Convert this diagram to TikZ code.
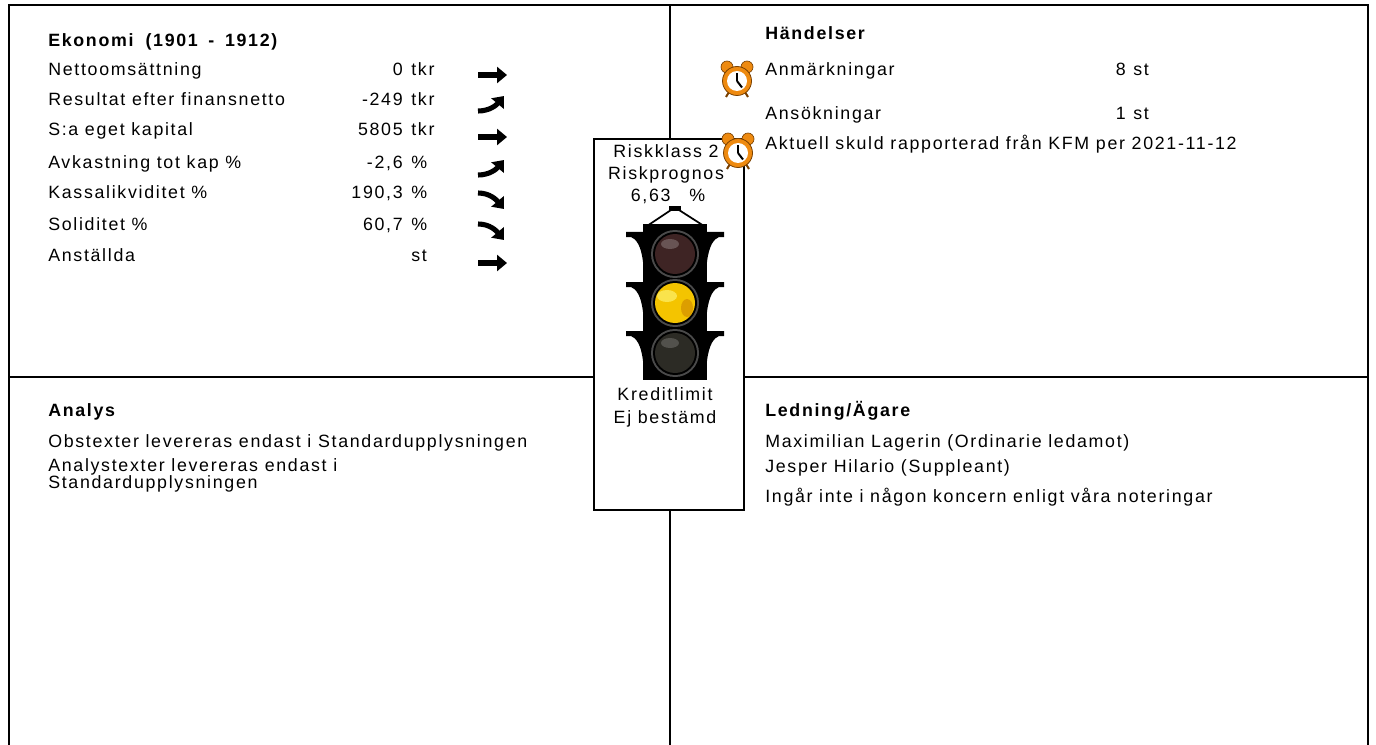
\documentclass[tikz,border=0pt]{standalone}
\usepackage{fontspec}
\setmainfont{Liberation Sans}[LetterSpace=9.5]
\usetikzlibrary{arrows.meta}
\definecolor{clockorange}{HTML}{EE8A10}
\definecolor{clockdark}{HTML}{7A4000}
\definecolor{lampred}{HTML}{3E2424}
\definecolor{lampyel}{HTML}{F4C400}
\definecolor{lampgrn}{HTML}{2C2B25}
\definecolor{ringgray}{HTML}{4A4A4A}
\newcommand{\clockicon}[2]{%
  \draw[line width=1.5pt,clockdark] (#1-8,#2+11) -- (#1-11,#2+16);
  \draw[line width=1.5pt,clockdark] (#1+8,#2+11) -- (#1+11,#2+16);
  \filldraw[fill=clockorange,draw=clockdark,line width=0.5pt] (#1-10,#2-14) circle[radius=6];
  \filldraw[fill=clockorange,draw=clockdark,line width=0.5pt] (#1+10,#2-14) circle[radius=6];
  \filldraw[fill=clockorange,draw=clockdark,line width=0.6pt] (#1,#2) circle[radius=14.5];
  \fill[white] (#1,#2) circle[radius=10];
  \draw[line width=1.5pt] (#1,#2+0.5) -- (#1,#2-8);
  \draw[line width=1.5pt] (#1,#2) -- (#1+5,#2+6.5);
}
\newcommand{\wings}[1]{%
  \fill[black] (626,#1) -- (643,#1) -- (643,#1+30) .. controls (641,#1+13) and (636,#1+7) .. (631,#1+5) -- (626,#1+5) -- cycle;
  \fill[black] (724,#1) -- (707,#1) -- (707,#1+30) .. controls (709,#1+13) and (714,#1+7) .. (719,#1+5) -- (724,#1+5) -- cycle;
}
\begin{document}
\begin{tikzpicture}[x=0.75pt,y=-0.75pt,
  every node/.style={inner sep=0pt,font=\fontsize{13.35pt}{15pt}\selectfont},
  txt/.style={anchor=base west},
  hdr/.style={anchor=base west,font=\fontsize{13.35pt}{15pt}\selectfont\bfseries},
  val/.style={anchor=base east},
  ctr/.style={anchor=base},
  frame/.style={line width=1.5pt},
  trend/.style={line width=3.8pt,-{Triangle[length=7.5pt,width=12pt]}}]
\useasboundingbox (0,0) rectangle (1376,745);
% frame
\draw[frame] (9,745) -- (9,5) -- (1368,5) -- (1368,745);
\draw[frame] (670,5) -- (670,139);
\draw[frame] (670,510) -- (670,745);
\draw[frame] (9,377) -- (594,377);
\draw[frame] (744,377) -- (1368,377);
\draw[frame] (594,139) rectangle (744,510);

% Ekonomi
\node[hdr] (ekh) at (48,47) {Ekonomi\hspace{4pt} (1901\hspace{3pt} -\hspace{3pt} 1912)};
\foreach \lab/\num/\un/\yy [count=\i] in {Nettoomsättning/0/tkr/76, Resultat efter finansnetto/-249/tkr/106, S:a eget kapital/5805/tkr/136, Avkastning tot kap \%/-2{,}6/\%/169, Kassalikviditet \%/190{,}3/\%/199, Soliditet \%/60{,}7/\%/230, Anställda//st/262}{
  \node[txt] (l\i) at (48,\yy) {\lab};
  \node[val] (v\i) at (403,\yy) {\num};
  \node[txt] (u\i) at (411,\yy) {\un};
}
% trend arrows
\draw[trend] (478,75) -- (507,75);
\draw[trend] (478,111) to[out=0,in=230] (504,96);
\draw[trend] (478,137) -- (507,137);
\draw[trend] (478,175) to[out=0,in=230] (504,160);
\draw[trend] (478,193) to[out=0,in=130] (504,209);
\draw[trend] (478,224) to[out=0,in=130] (504,240);
\draw[trend] (478,263) -- (507,263);

% Händelser
\node[hdr] (hh) at (765,40) {Händelser};
\node[txt] (h1) at (765,76) {Anmärkningar};
\node[val] (h1v) at (1126,76) {8};
\node[txt] (h1u) at (1133,76) {st};
\node[txt] (h2) at (765,120) {Ansökningar};
\node[val] (h2v) at (1126,120) {1};
\node[txt] (h2u) at (1133,120) {st};
\node[txt] (h3) at (765,150) {Aktuell skuld rapporterad från KFM per 2021-11-12};
\clockicon{737}{81}
\clockicon{738}{153}

% Analys
\node[hdr] (ah) at (48,416) {Analys};
\node[txt] (a1) at (48,447) {Obstexter levereras endast i Standardupplysningen};
\node[txt] (a2) at (48,471) {Analystexter levereras endast i};
\node[txt] (a3) at (48,488) {Standardupplysningen};

% Ledning
\node[hdr] (lh) at (765,416) {Ledning/Ägare};
\node[txt] (m1) at (765,447) {Maximilian Lagerin (Ordinarie ledamot)};
\node[txt] (m2) at (765,472) {Jesper Hilario (Suppleant)};
\node[txt] (m3) at (765,502) {Ingår inte i någon koncern enligt våra noteringar};

% center
\node[ctr] (rk) at (666,158) {Riskklass 2};
\node[ctr] (rp) at (666,180) {Riskprognos};
\node[ctr] (rv) at (668,202) {6,63\hspace{14pt}\%};
\node[ctr] (kl) at (665,400) {Kreditlimit};
\node[ctr] (eb) at (665,423) {Ej bestämd};

% traffic light
\draw[line width=1.3pt] (647,226) -- (671,210) -- (679,210) -- (704,226);
\fill[black] (669,206) rectangle (681,211);
\fill[black] (643,224) rectangle (707,380);
\wings{232}
\wings{282}
\wings{331}
\foreach \cy/\col in {254/lampred,303/lampyel,353/lampgrn}{
  \fill[ringgray] (675,\cy) circle[radius=24];
  \fill[black] (675,\cy) circle[radius=22];
  \fill[\col] (675,\cy) circle[radius=20];
}
\fill[white,opacity=0.22] (670,244) ellipse[x radius=9,y radius=5];
\fill[white,opacity=0.18] (670,343) ellipse[x radius=9,y radius=5];
\fill[yellow!50!white,opacity=0.6] (667,296) ellipse[x radius=10,y radius=6];
\fill[orange!70!black,opacity=0.35] (687,308) ellipse[x radius=6,y radius=9];
\end{tikzpicture}
\end{document}
